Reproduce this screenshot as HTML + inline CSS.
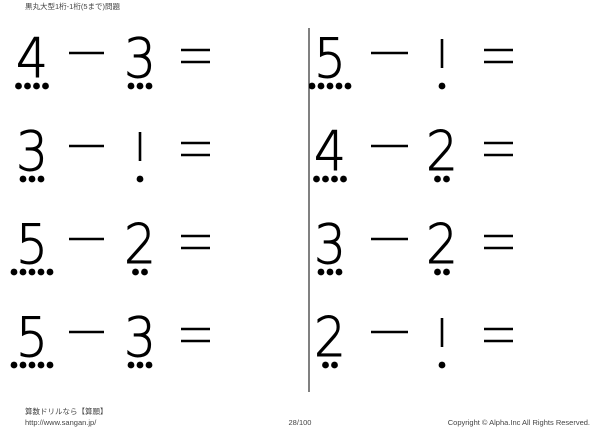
<!DOCTYPE html>
<html><head><meta charset="utf-8"><style>
html,body{margin:0;padding:0;background:#fff;width:600px;height:429px;overflow:hidden}
text{font-family:"DejaVu Sans","Liberation Sans",sans-serif}
.d{font-size:54px;font-weight:200}
.s{font-family:"Liberation Sans","Noto Sans CJK JP",sans-serif;font-size:7.5px;fill:#444}
</style></head><body>
<svg width="600" height="429" xmlns="http://www.w3.org/2000/svg">
<text class="s" x="25" y="9">黒丸大型1桁-1桁(5まで)問題</text>
<line x1="309" y1="28" x2="309" y2="392" stroke="#000" stroke-width="1"/>
<g id="all" fill="#000" stroke="#000"></g>
<text class="s" x="25" y="414">算数ドリルなら【算願】</text>
<text class="s" x="25" y="425">http://www.sangan.jp/</text>
<text class="s" x="300" y="425" text-anchor="middle">28/100</text>
<text class="s" x="590" y="425" text-anchor="end">Copyright © Alpha.Inc All Rights Reserved.</text>
</svg>
<script>
var rows=[[4,3,5,1],[3,1,4,2],[5,2,3,2],[5,3,2,1]];
var bs=[77,170,263,356];
var g=document.getElementById('all');var ns='http://www.w3.org/2000/svg';
function el(t,a,txt){var e=document.createElementNS(ns,t);for(var k in a)e.setAttribute(k,a[k]);if(txt!=null)e.textContent=txt;g.appendChild(e);return e;}
function num(n,cx,b){
 if(n==1){el('line',{x1:cx,y1:b-38,x2:cx,y2:b-9,'stroke-width':2.6});}
 else{el('text',{'class':'d','text-anchor':'middle',transform:'translate('+cx+','+b+') scale(0.93,1)','stroke-width':0.9},String(n));}
 for(var i=0;i<n;i++){el('circle',{cx:cx+(i-(n-1)/2)*9,cy:b+9,r:3.4,stroke:'none'});}
}
function ops(x1,x2,e1,e2,b){
 el('line',{x1:x1,y1:b-24,x2:x2,y2:b-24,'stroke-width':2.4});
 el('line',{x1:e1,y1:b-27,x2:e2,y2:b-27,'stroke-width':2.4});
 el('line',{x1:e1,y1:b-15,x2:e2,y2:b-15,'stroke-width':2.4});
}
for(var r=0;r<4;r++){var b=bs[r],q=rows[r];
 num(q[0],32,b);ops(69,104,181,210,b);num(q[1],140,b);
 num(q[2],330,b);ops(371,408,484,513,b);num(q[3],442,b);
}
</script>
</body></html>
